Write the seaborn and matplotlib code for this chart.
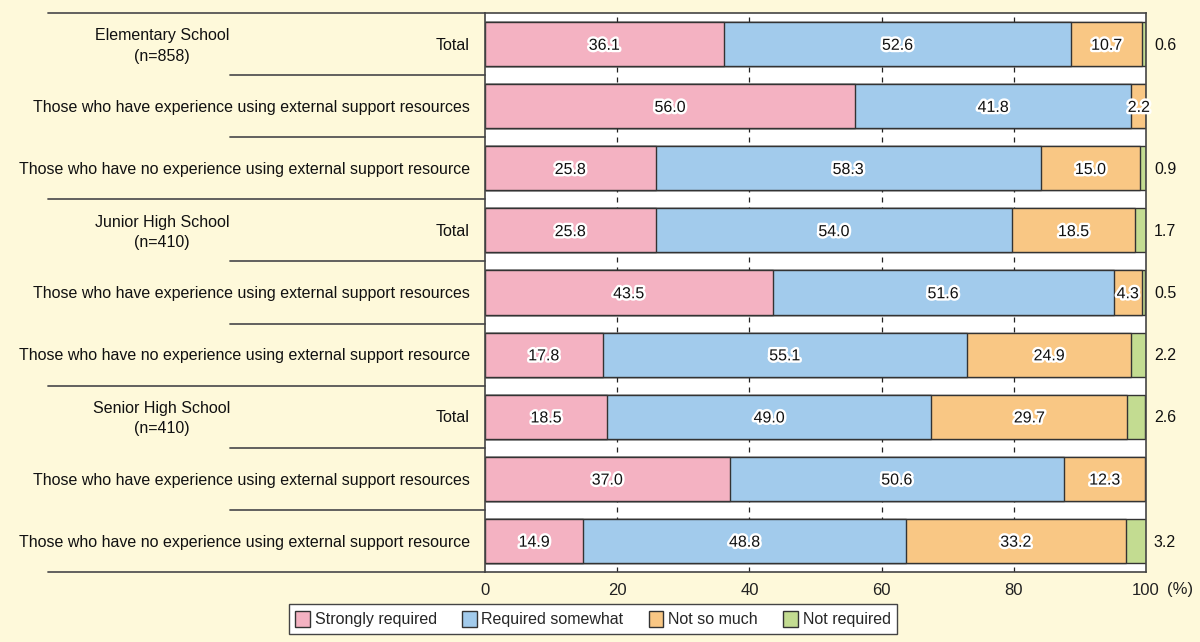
import matplotlib
matplotlib.use("Agg")
import matplotlib.pyplot as plt
import matplotlib.patheffects as pe
from matplotlib import transforms
from matplotlib.patches import Patch
import seaborn as sns
import pandas as pd
import numpy as np

sns.set_theme(style="white")
plt.rcParams['font.family'] = ['Liberation Sans', 'DejaVu Sans']

groups = ["Elementary School\n(n=858)", "Junior High School\n(n=410)", "Senior High School\n(n=410)"]
subrows = ["Total",
           "Those who have experience using external support resources",
           "Those who have no experience using external support resource"]
categories = ["Strongly required", "Required somewhat", "Not so much", "Not required"]
strongly = [36.1, 56.0, 25.8, 25.8, 43.5, 17.8, 18.5, 37.0, 14.9]
somewhat = [52.6, 41.8, 58.3, 54.0, 51.6, 55.1, 49.0, 50.6, 48.8]
not_much = [10.7, 2.2, 15.0, 18.5, 4.3, 24.9, 29.7, 12.3, 33.2]
not_req = [0.6, 0.0, 0.9, 1.7, 0.5, 2.2, 2.6, 0.0, 3.2]
colors = ["#F4B2C2", "#A2CBEC", "#F9C784", "#C3DC91"]
bg = "#FEF9DA"

rows = [f"r{i}" for i in range(9)]
series = [strongly, somewhat, not_much, not_req]
cum = np.zeros(9)
cums = []
for s in series:
    cum = cum + np.array(s)
    cums.append(cum.copy())

FS = 11.5

fig = plt.figure(figsize=(12, 6.42), dpi=100, facecolor=bg)
ax = fig.add_axes([485/1200, 1-572/642, (1146-485)/1200, (572-13)/642])
ax.set_facecolor("white")

# dashed grid
for g in [20, 40, 60, 80]:
    ax.axvline(g, color="#222222", ls=(0, (4, 4)), lw=0.9, zorder=0)

for k in range(3, -1, -1):
    d = pd.DataFrame({"row": rows, "val": cums[k]})
    sns.barplot(data=d, x="val", y="row", orient="h", color=colors[k],
                edgecolor="#333333", linewidth=1.0, width=0.71, ax=ax,
                saturation=1, zorder=2)

ax.set_xlim(0, 100)
ax.set_ylim(8.5, -0.5)
ax.set_yticks([])
ax.set_ylabel("")
ax.set_xlabel("")
ax.set_xticks([0, 20, 40, 60, 80, 100])
ax.set_xticklabels(["0", "20", "40", "60", "80", "100"], fontsize=12, color="#222222")
ax.tick_params(axis="x", length=0, pad=8)
for sp in ax.spines.values():
    sp.set_color("#444444")
    sp.set_linewidth(1.2)
ax.annotate("(%)", xy=(100, 8.5), xytext=(15, -7.5), textcoords="offset points",
            ha="left", va="top", fontsize=12, color="#222222", annotation_clip=False)

stroke = [pe.withStroke(linewidth=3.5, foreground="white")]
for i in range(9):
    left = 0.0
    for k in range(3):
        v = series[k][i]
        if v > 0:
            ax.text(left + v / 2, i + 0.02, f"{v:.1f}", ha="center", va="center",
                    fontsize=FS, color="#111111", path_effects=stroke, zorder=5)
        left += v
    v = series[3][i]
    if v > 0:
        ax.text(101.2, i + 0.02, f"{v:.1f}", ha="left", va="center", fontsize=FS,
                color="#111111", clip_on=False)

# left panel labels & lines
tr = transforms.blended_transform_factory(fig.transFigure, ax.transData)
for i in range(9):
    ax.text(470/1200, i + 0.02, subrows[i % 3], transform=tr, ha="right", va="center",
            fontsize=FS, color="#111111")
for gi, g in enumerate(groups):
    ax.text(162/1200, gi*3 + 0.03, g, transform=tr, ha="center", va="center",
            fontsize=FS, color="#111111", linespacing=1.45)
for y in [-0.5, 2.5, 5.5, 8.5]:
    ax.plot([48/1200, 485/1200], [y, y], transform=tr, color="#555555", lw=1.3,
            clip_on=False, zorder=1)
for y in [0.5, 1.5, 3.5, 4.5, 6.5, 7.5]:
    ax.plot([230/1200, 485/1200], [y, y], transform=tr, color="#555555", lw=1.3,
            clip_on=False, zorder=1)

handles = [Patch(facecolor=c, edgecolor="#333333", linewidth=1.0) for c in colors]
leg = fig.legend(handles, categories, loc="center", bbox_to_anchor=(593/1200, 1-619/642),
                 ncol=4, fontsize=FS, frameon=True, fancybox=False,
                 handlelength=0.9, handleheight=1.2, handletextpad=0.3,
                 columnspacing=1.6, borderpad=0.4, edgecolor="#444444")
leg.get_frame().set_linewidth(1.0)
leg.get_frame().set_facecolor("white")
leg.get_frame().set_alpha(1)

fig.savefig("out.png", dpi=100, facecolor=bg)
